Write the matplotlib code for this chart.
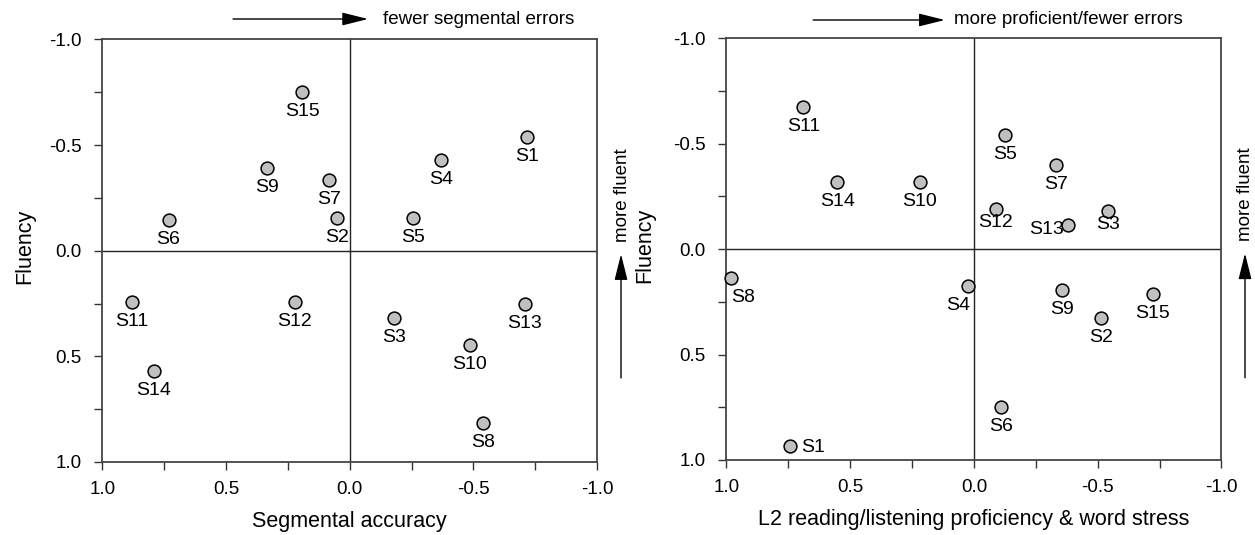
import numpy as np
import matplotlib
matplotlib.use("Agg")
import matplotlib.pyplot as plt
from matplotlib.ticker import MultipleLocator, FormatStrFormatter

plt.rcParams['font.family'] = ['Liberation Sans', 'DejaVu Sans']
plt.rcParams['axes.unicode_minus'] = False

# Subject labels (same order in both panels)
subjects = ['S1', 'S2', 'S3', 'S4', 'S5', 'S6', 'S7', 'S8',
            'S9', 'S10', 'S11', 'S12', 'S13', 'S14', 'S15']

# Left panel: segmental accuracy vs fluency
seg_acc = [-0.718, 0.051, -0.178, -0.370, -0.256, 0.733, 0.082, -0.538,
           0.333, -0.486, 0.880, 0.222, -0.707, 0.792, 0.192]
fluency_left = [-0.54, -0.155, 0.32, -0.43, -0.155, -0.145, -0.333, 0.817,
                -0.392, 0.448, 0.242, 0.242, 0.25, 0.568, -0.75]

# Right panel: L2 proficiency & word stress vs fluency
l2_prof = [0.745, -0.514, -0.54, 0.026, -0.124, -0.11, -0.332, 0.98,
           -0.354, 0.219, 0.689, -0.088, -0.381, 0.553, -0.723]
fluency_right = [0.934, 0.326, -0.182, 0.176, -0.54, 0.75, -0.40, 0.135,
                 0.195, -0.317, -0.674, -0.19, -0.114, -0.317, 0.215]

# label offsets in points (dx, dy, ha); default is straight below the marker
DEFAULT_OFF = (0, -14, 'center')
right_offsets = {
    'S1': (8, -1, 'left'),
    'S8': (0, -14.5, 'left'),
    'S4': (-7, -14, 'center'),
    'S12': (0, -10, 'center'),
    'S3': (0, -10, 'center'),
    'S13': (-16, -3, 'center'),
}


def style_axes(ax, xlabel):
    ax.set_xlim(1, -1)
    ax.set_ylim(1, -1)
    ax.xaxis.set_major_locator(MultipleLocator(0.5))
    ax.yaxis.set_major_locator(MultipleLocator(0.5))
    ax.xaxis.set_minor_locator(MultipleLocator(0.25))
    ax.yaxis.set_minor_locator(MultipleLocator(0.25))
    ax.xaxis.set_major_formatter(FormatStrFormatter('%.1f'))
    ax.yaxis.set_major_formatter(FormatStrFormatter('%.1f'))
    ax.tick_params(which='both', direction='out', length=6, width=1,
                   color='#333333', top=False, right=False)
    ax.tick_params(axis='x', which='major', labelsize=13.5, pad=8)
    ax.tick_params(axis='y', which='major', labelsize=13.5, pad=9)
    for sp in ax.spines.values():
        sp.set_color('#444444')
        sp.set_linewidth(1.3)
    ax.axhline(0, color='#222222', lw=1, zorder=1)
    ax.axvline(0, color='#222222', lw=1, zorder=1)
    ax.set_xlabel(xlabel, fontsize=15.5, va='center')
    ax.set_ylabel('Fluency', fontsize=15.5, va='center')
    ax.xaxis.set_label_coords(0.5, -0.142)


def draw_points(ax, xs, ys, offsets):
    ax.scatter(xs, ys, s=85, c='#c0c0c0', edgecolors='black',
               linewidths=1.1, zorder=3, clip_on=False)
    for name, x, y in zip(subjects, xs, ys):
        dx, dy, ha = offsets.get(name, DEFAULT_OFF)
        ax.annotate(name, (x, y), xytext=(dx, dy), textcoords='offset points',
                    ha=ha, va='center', fontsize=14)


def arrow(ax, start, end):
    ax.annotate('', xy=end, xytext=start, xycoords='axes fraction',
                textcoords='axes fraction', annotation_clip=False,
                arrowprops=dict(arrowstyle='-|>,head_length=0.8,head_width=0.2',
                                mutation_scale=20, color='black', lw=1,
                                shrinkA=0, shrinkB=0))


fig = plt.figure(figsize=(12.55, 5.35), dpi=100)
ax1 = fig.add_axes([0.08167, 0.13645, 0.39402, 0.78972])
ax2 = fig.add_axes([0.57888, 0.14019, 0.39442, 0.78822])

# Left panel
style_axes(ax1, 'Segmental accuracy')
ax1.yaxis.set_label_coords(-0.157, 0.51)
draw_points(ax1, seg_acc, fluency_left, {})
arrow(ax1, (0.264, 1.0485), (0.537, 1.0485))
ax1.text(0.567, 1.0485, 'fewer segmental errors', transform=ax1.transAxes,
         ha='left', va='center', fontsize=13.5)
arrow(ax1, (1.0486, 0.199), (1.0486, 0.492))
ax1.text(1.0506, 0.52, 'more fluent', transform=ax1.transAxes, rotation=90,
         ha='center', va='bottom', fontsize=13.5)

# Right panel
style_axes(ax2, 'L2 reading/listening proficiency & word stress')
ax2.yaxis.set_label_coords(-0.165, 0.51)
draw_points(ax2, l2_prof, fluency_right, right_offsets)
arrow(ax2, (0.175, 1.0434), (0.441, 1.0434))
ax2.text(0.46, 1.0434, 'more proficient/fewer errors', transform=ax2.transAxes,
         ha='left', va='center', fontsize=13.5)
arrow(ax2, (1.0475, 0.195), (1.0475, 0.49))
ax2.text(1.0475, 0.52, 'more fluent', transform=ax2.transAxes, rotation=90,
         ha='center', va='bottom', fontsize=13.5)

fig.savefig('out.png', dpi=100)
